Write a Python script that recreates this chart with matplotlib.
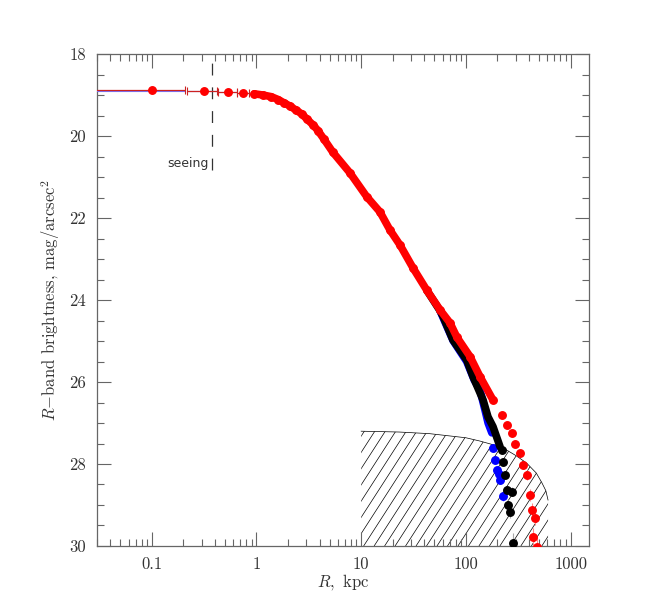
import matplotlib
matplotlib.use("Agg")
import matplotlib.pyplot as plt
import numpy as np
from matplotlib.ticker import LogLocator, MultipleLocator, NullFormatter
from matplotlib.patches import Polygon
from matplotlib.collections import LineCollection

# --- data (R in kpc, mu in mag/arcsec^2) ---
# inner, separate points with radial bin widths
red_in_R = [0.1, 0.315, 0.535, 0.74]
red_in_mu = [18.88, 18.895, 18.92, 18.94]
red_in_xlo = [0.0999, 0.10, 0.11, 0.09]
red_in_xhi = [0.11, 0.105, 0.11, 0.10]
blue_in_mu = [18.90, 18.905, 18.925, 18.945]

# dense part of the profile
red_R = [0.95, 1.15, 1.38, 1.61, 1.83, 2.09, 2.39, 2.70, 3.04, 3.47, 3.87, 4.42, 5.38,
         7.82, 11.3, 15.1, 18.8, 23.5, 31.3, 42.3, 56.6, 70.6, 81.8, 109.6, 136.5, 181.6]
red_mu = [18.97, 19.00, 19.04, 19.11, 19.19, 19.27, 19.37, 19.46, 19.59, 19.73, 19.87, 20.08, 20.40,
          20.90, 21.48, 21.85, 22.29, 22.66, 23.22, 23.76, 24.24, 24.56, 24.90, 25.38, 25.87, 26.44]

black_R = [42.3, 56.6, 60.5, 75.4, 101.8, 117, 146, 162.6, 181.6, 212]
black_mu = [23.76, 24.26, 24.40, 24.98, 25.46, 25.87, 26.44, 26.85, 27.09, 27.58]

blue_R = [56.6, 75.4, 101.8, 120, 136.5, 152, 163, 177]
blue_mu = [24.26, 24.99, 25.50, 25.95, 26.20, 26.68, 27.00, 27.24]

# outer, separate points
red_out_R = [220, 245, 274, 294, 329, 354, 381, 410, 426, 457, 436, 475]
red_out_mu = [26.80, 27.05, 27.25, 27.50, 27.74, 28.02, 28.27, 28.76, 29.12, 29.32, 29.77, 30.02]
red_out_err = [0.05, 0.06, 0.07, 0.08, 0.09, 0.10, 0.12, 0.14, 0.16, 0.18, 0.22, 0.25]

black_out_R = [220, 226, 237, 245, 274, 254, 264, 280]
black_out_mu = [27.66, 27.94, 28.27, 28.63, 28.68, 29.00, 29.16, 29.93]
black_out_err = [0.06, 0.07, 0.08, 0.10, 0.11, 0.13, 0.15, 0.25]

blue_out_R = [183, 190, 200, 206, 212, 226]
blue_out_mu = [27.62, 27.90, 28.15, 28.25, 28.39, 28.78]
blue_out_err = [0.06, 0.07, 0.08, 0.09, 0.10, 0.12]

# limit of reliable photometry (hatched zone)
lim_R = [10, 23, 45, 100, 136, 200, 245, 303, 381, 470, 530, 580, 609]
lim_mu = [27.20, 27.22, 27.26, 27.36, 27.44, 27.56, 27.66, 27.80, 27.98, 28.22, 28.45, 28.65, 28.88]

seeing_R = 0.38

xticks = [0.1, 1, 10, 100, 1000]
xtick_labels = ["0.1", "1", "10", "100", "1000"]
yticks = [18, 20, 22, 24, 26, 28, 30]

plt.rcParams["font.family"] = "cmr10"
plt.rcParams["mathtext.fontset"] = "cm"
plt.rcParams["axes.unicode_minus"] = False

fig = plt.figure(figsize=(6.64, 6.13), dpi=100)
ax = fig.add_axes([0.1461, 0.1093, 0.741, 0.8026])
ax.set_xscale("log")
ax.set_xlim(0.03, 1500)
ax.set_ylim(30, 18)

# hatched zone
poly = Polygon(list(zip(lim_R + [lim_R[-1], lim_R[0]], lim_mu + [30, 30])),
               closed=True, facecolor="none", edgecolor="none", transform=ax.transData)
ax.add_patch(poly)
x0 = np.arange(-0.8, 1.0, 0.0213)
segs = [[(a, 0), (a + 1 / 1.55, 1)] for a in x0]
lc = LineCollection(segs, colors="black", linewidths=0.5, transform=ax.transAxes, zorder=1)
ax.add_collection(lc)
lc.set_clip_path(poly)
ax.plot(lim_R, lim_mu, color="black", lw=0.5, zorder=1)

# seeing
ax.plot([seeing_R, seeing_R], [20.83, 18.0], color="#333333", lw=0.9, dashes=(9.5, 9.5), zorder=2)
ax.text(0.35, 20.66, "seeing", family="DejaVu Sans", fontsize=9, color="#333333",
        ha="right", va="center")

ms = 5.4
# blue
ax.errorbar(red_in_R, blue_in_mu, xerr=[red_in_xlo, red_in_xhi], fmt="none",
            ecolor="#7777ff", elinewidth=0.8, zorder=3)
ax.plot(blue_R, blue_mu, color="blue", lw=5.5, solid_capstyle="round", zorder=3)
ax.errorbar(blue_out_R, blue_out_mu, yerr=blue_out_err, fmt="o", color="blue", ms=ms,
            ecolor="#9999ff", elinewidth=0.8, zorder=3)
# black
ax.plot(black_R, black_mu, color="black", lw=5.5, solid_capstyle="round", zorder=4)
ax.errorbar(black_out_R, black_out_mu, yerr=black_out_err, fmt="o", color="black", ms=ms,
            ecolor="#aaaaaa", elinewidth=0.8, zorder=4)
# red
ax.errorbar(red_in_R, red_in_mu, xerr=[red_in_xlo, red_in_xhi], fmt="o", color="red", ms=ms,
            ecolor="#cc2222", elinewidth=0.9, capsize=3, capthick=0.8, zorder=5)
ax.plot(red_R, red_mu, color="red", lw=5.5, solid_capstyle="round", zorder=6)
ax.plot(red_R, red_mu, "o", color="red", ms=ms, zorder=6)
ax.errorbar(red_out_R, red_out_mu, yerr=red_out_err, fmt="o", color="red", ms=ms,
            ecolor="#ff8888", elinewidth=0.8, zorder=5)

# axes styling
ax.set_xticks(xticks, xtick_labels)
ax.xaxis.set_minor_locator(LogLocator(base=10, subs=np.arange(2, 10)))
ax.xaxis.set_minor_formatter(NullFormatter())
ax.set_yticks(yticks)
ax.yaxis.set_minor_locator(MultipleLocator(0.5))
ax.tick_params(which="both", direction="in", top=True, right=True, colors="#666666",
               labelcolor="#333333", labelsize=12)
ax.tick_params(which="major", length=10, width=0.8, pad=8)
ax.tick_params(which="minor", length=5, width=0.8)
for s in ax.spines.values():
    s.set_color("#666666")
    s.set_linewidth(0.9)

ax.set_xlabel(r"$R,$ kpc", fontsize=12, color="#333333", labelpad=0)
ax.set_ylabel(r"$R{-}$band brightness, mag/arcsec$^2$", fontsize=12, color="#333333", labelpad=5)

fig.savefig("out.png", dpi=100)
